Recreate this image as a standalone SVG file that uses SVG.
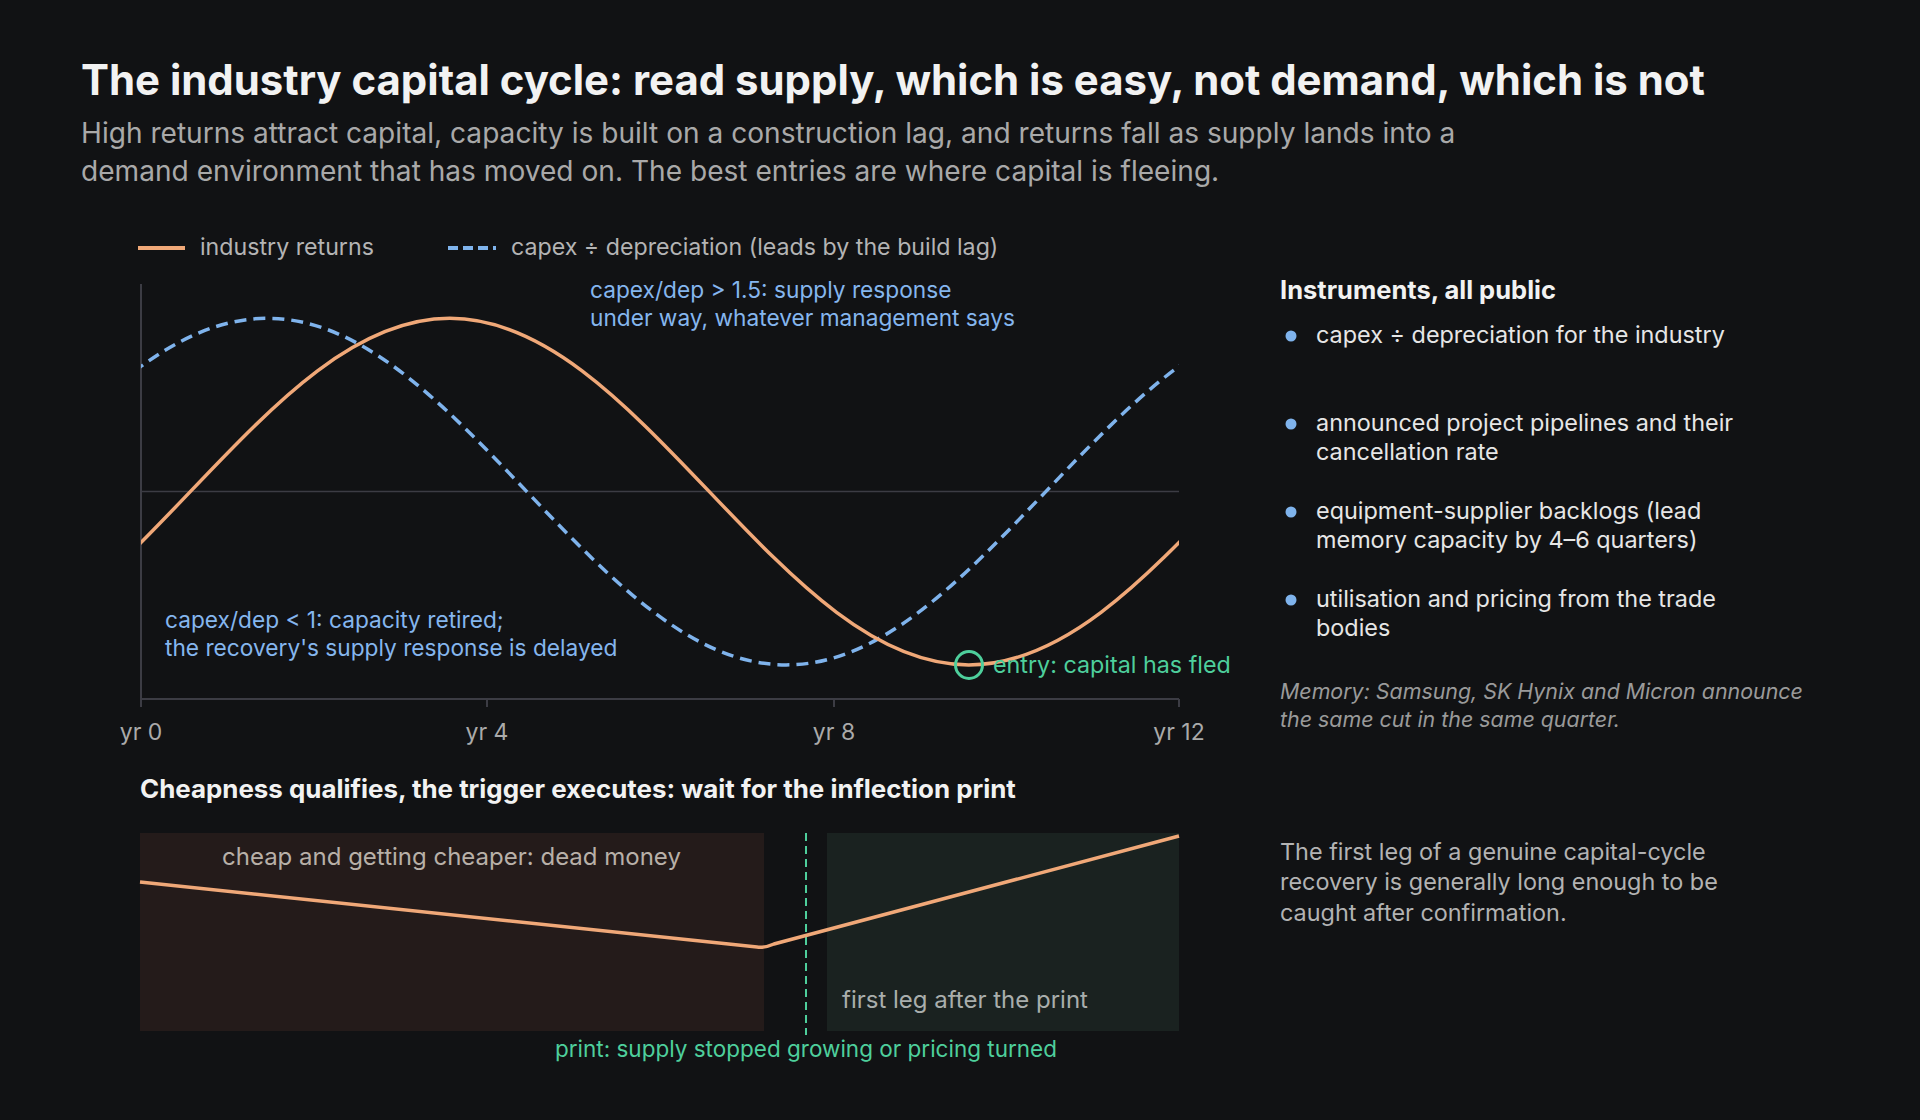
<svg xmlns="http://www.w3.org/2000/svg" width="1920" height="1120" viewBox="0 0 1920 1120">
<style>
text{font-family:Inter,"Noto Sans","Liberation Sans",sans-serif}
.t{fill:#f2f2f2;font-weight:700}
.sub{fill:#a9a9a9;font-size:28.1px}
.leg{fill:#b4b4b4;font-size:23.2px}
.ann{fill:#85b6ee;font-size:22.7px}
.ax{fill:#aaaaaa;font-size:23px;text-anchor:middle}
.li{fill:#e6e6e6;font-size:23.4px}
.g{fill:#4ecf9c}
.gray{fill:#b3b3b3;font-size:23.4px}
</style>
<defs><clipPath id="cp"><rect x="141" y="270" width="1038" height="440"/></clipPath></defs>
<rect width="1920" height="1120" fill="#111214"/>
<g id="header">
<text class="t" x="81" y="95" font-size="41.9">The industry capital cycle: read supply, which is easy, not demand, which is not</text>
<text class="sub" x="81" y="143">High returns attract capital, capacity is built on a construction lag, and returns fall as supply lands into a</text>
<text class="sub" x="81" y="181">demand environment that has moved on. The best entries are where capital is fleeing.</text>
</g>
<g id="legend">
<line x1="138" y1="248" x2="185" y2="248" stroke="#f0a878" stroke-width="4"/>
<text class="leg" x="200" y="255">industry returns</text>
<line x1="448" y1="248" x2="496" y2="248" stroke="#7fb3ec" stroke-width="4" stroke-dasharray="10 5"/>
<text class="leg" x="511" y="255">capex ÷ depreciation (leads by the build lag)</text>
</g>
<g id="axes" stroke="#3c3c44" stroke-width="2">
<line x1="141" y1="284" x2="141" y2="699"/>
<line x1="141" y1="699" x2="1179" y2="699"/>
<line x1="141" y1="491.6" x2="1179" y2="491.6" stroke-width="1.5"/>
<line x1="141" y1="699" x2="141" y2="707"/>
<line x1="487" y1="699" x2="487" y2="707"/>
<line x1="834" y1="699" x2="834" y2="707"/>
<line x1="1179" y1="699" x2="1179" y2="707"/>
</g>
<g id="ticklabels">
<text class="ax" x="141" y="740">yr 0</text>
<text class="ax" x="487" y="740">yr 4</text>
<text class="ax" x="834" y="740">yr 8</text>
<text class="ax" x="1179" y="740">yr 12</text>
</g>
<g id="connectors" clip-path="url(#cp)" fill="none">
<path id="blue" d="M-251.7,664.9 c93.4,0 172.8,-82.3 259.5,-173.3 c86.7,-91 166.1,-173.3 259.5,-173.3 c93.4,0 172.8,82.3 259.5,173.3 c86.7,91 166.1,173.3 259.5,173.3 c93.4,0 172.8,-82.3 259.5,-173.3 c86.7,-91 166.1,-173.3 259.5,-173.3" stroke="#7fb3ec" stroke-width="3.5" stroke-dasharray="12 7"/>
<path id="orange" d="M-69.2,664.9 c93.4,0 172.8,-82.3 259.5,-173.3 c86.7,-91 166.1,-173.3 259.5,-173.3 c93.4,0 172.8,82.3 259.5,173.3 c86.7,91 166.1,173.3 259.5,173.3 c93.4,0 172.8,-82.3 259.5,-173.3 c86.7,-91 166.1,-173.3 259.5,-173.3" stroke="#f0a878" stroke-width="3.5"/>
</g>
<g id="entry">
<circle cx="969" cy="665" r="13.5" fill="none" stroke="#4ecf9c" stroke-width="3"/>
<text class="g" x="993" y="673" font-size="23.3">entry: capital has fled</text>
</g>
<g id="annotations">
<text class="ann" x="590" y="298">capex/dep &gt; 1.5: supply response</text>
<text class="ann" x="590" y="326">under way, whatever management says</text>
<text class="ann" x="165" y="628">capex/dep &lt; 1: capacity retired;</text>
<text class="ann" x="165" y="656">the recovery's supply response is delayed</text>
</g>
<g id="instruments">
<text class="t" x="1280" y="299" font-size="25.5">Instruments, all public</text>
<g fill="#7fb3ec"><circle cx="1291" cy="336" r="5.5"/><circle cx="1291" cy="424" r="5.5"/><circle cx="1291" cy="512" r="5.5"/><circle cx="1291" cy="600" r="5.5"/></g>
<text class="li" x="1316" y="343">capex ÷ depreciation for the industry</text>
<text class="li" x="1316" y="431">announced project pipelines and their</text>
<text class="li" x="1316" y="460">cancellation rate</text>
<text class="li" x="1316" y="519">equipment-supplier backlogs (lead</text>
<text class="li" x="1316" y="548">memory capacity by 4–6 quarters)</text>
<text class="li" x="1316" y="607">utilisation and pricing from the trade</text>
<text class="li" x="1316" y="636">bodies</text>
<text x="1280" y="699" font-size="21.4" font-style="italic" fill="#9a9a9a">Memory: Samsung, SK Hynix and Micron announce</text>
<text x="1280" y="727" font-size="21.4" font-style="italic" fill="#9a9a9a">the same cut in the same quarter.</text>
</g>
<g id="trigger">
<text class="t" x="140" y="798" font-size="25.9">Cheapness qualifies, the trigger executes: wait for the inflection print</text>
<rect x="140" y="833" width="624" height="198" fill="#241b1a"/>
<rect x="827" y="833" width="352" height="198" fill="#1a2220"/>
<line x1="806" y1="833" x2="806" y2="1035" stroke="#4ecf9c" stroke-width="2" stroke-dasharray="8 5"/>
<path d="M140,882 L757,947 Q765,948 774,944 L1179,836" fill="none" stroke="#f0a878" stroke-width="3.5"/>
<text x="222" y="865" font-size="24" fill="#b8b0a8">cheap and getting cheaper: dead money</text>
<text x="842" y="1008" font-size="24" fill="#a9aeac">first leg after the print</text>
<text class="g" x="806" y="1057" font-size="22.5" text-anchor="middle">print: supply stopped growing or pricing turned</text>
</g>
<g id="note">
<text class="gray" x="1280" y="860">The first leg of a genuine capital-cycle</text>
<text class="gray" x="1280" y="890">recovery is generally long enough to be</text>
<text class="gray" x="1280" y="921">caught after confirmation.</text>
</g>
</svg>
